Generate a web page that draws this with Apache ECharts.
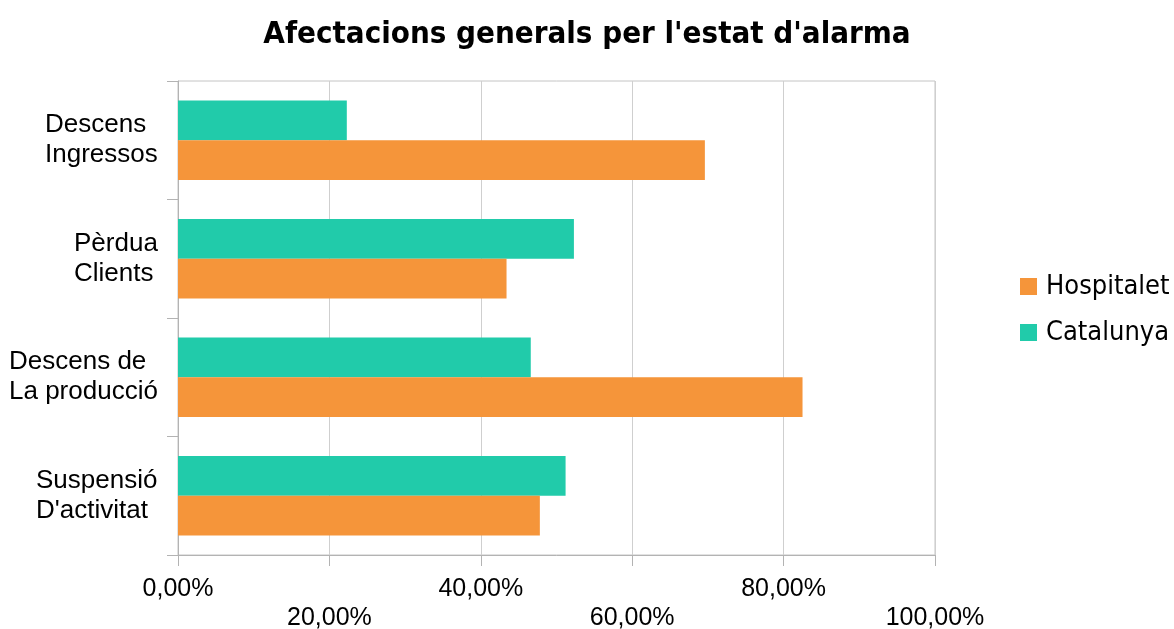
<!DOCTYPE html>
<html>
<head>
<meta charset="utf-8">
<script src="https://cdn.jsdelivr.net/npm/echarts@6/dist/echarts.min.js"></script>
<style>
  html, body { margin: 0; padding: 0; background: #fff; }
  #chart { width: 1174px; height: 629px; }
</style>
</head>
<body>
<div id="chart"></div>
<script>
// categories listed bottom to top
const categories = [
  ['Suspensió', "D'activitat"],
  ['Descens de', 'La producció'],
  ['Pèrdua', 'Clients'],
  ['Descens', 'Ingressos']
]
const hospitaletValues = [47.8, 82.5, 43.4, 69.6]
const catalunyaValues = [51.2, 46.6, 52.3, 22.3]
const xTicks = [0, 20, 40, 60, 80, 100]

const labelFamily = '"Liberation Sans", Arial, sans-serif'
const condensed = '"DejaVu Sans Condensed", "DejaVu Sans", sans-serif'

// measure each two-line label so the lines sit left-aligned inside a right-aligned block
const ctx = document.createElement('canvas').getContext('2d')
ctx.font = '26px ' + labelFamily
const rich = {}
categories.forEach((lines, i) => {
  const w = Math.ceil(Math.max(...lines.map(l => ctx.measureText(l).width))) + 1
  rich['l' + i] = {
    width: w,
    align: 'left',
    fontSize: 26,
    lineHeight: 30,
    fontFamily: labelFamily,
    color: '#000'
  }
})

const fmtPct = v => v.toFixed(2).replace('.', ',') + '%'

const chart = echarts.init(document.getElementById('chart'))
chart.setOption({
  animation: false,
  title: {
    text: "Afectacions generals per l'estat d'alarma",
    left: 'center',
    top: 14,
    textStyle: {
      fontFamily: condensed,
      fontWeight: 'bold',
      fontSize: 31,
      color: '#000'
    }
  },
  legend: {
    data: ['Hospitalet', 'Catalunya'],
    orient: 'vertical',
    left: 1015,
    top: 268,
    itemWidth: 17,
    itemHeight: 17,
    itemGap: 19,
    icon: 'rect',
    textStyle: {
      fontFamily: condensed,
      fontSize: 27,
      color: '#000',
      padding: [0, 0, 0, 4]
    }
  },
  grid: {
    left: 178,
    right: 239,
    top: 81,
    bottom: 74,
    outerBoundsMode: 'none',
    show: true,
    borderColor: '#c4c4c4',
    borderWidth: 1
  },
  xAxis: {
    type: 'value',
    min: 0,
    max: 100,
    interval: 20,
    axisLine: { show: true, lineStyle: { color: '#b3b3b3', width: 1 } },
    axisTick: { show: true, length: 11, lineStyle: { color: '#b3b3b3' } },
    splitLine: { lineStyle: { color: '#cfcfcf', width: 1 } },
    axisLabel: {
      margin: 20,
      fontFamily: labelFamily,
      fontSize: 25,
      lineHeight: 29,
      color: '#000',
      formatter: v => {
        const i = xTicks.indexOf(v)
        return (i % 2 === 1 ? '\n' : '') + fmtPct(v)
      }
    }
  },
  yAxis: {
    type: 'category',
    data: categories.map(c => c.join(' ')),
    axisLine: { show: true, lineStyle: { color: '#b3b3b3', width: 1 } },
    axisTick: { show: true, length: 11, lineStyle: { color: '#b3b3b3' } },
    axisLabel: {
      margin: 19,
      align: 'right',
      formatter: (val, idx) => categories[idx].map(l => '{l' + idx + '|' + l + '}').join('\n'),
      rich: rich
    }
  },
  series: [
    {
      name: 'Catalunya',
      type: 'bar',
      data: catalunyaValues,
      barGap: '0%',
      barCategoryGap: '33%',
      itemStyle: { color: '#21cbaa' }
    },
    {
      name: 'Hospitalet',
      type: 'bar',
      data: hospitaletValues,
      barGap: '0%',
      barCategoryGap: '33%',
      itemStyle: { color: '#f5953a' }
    }
  ]
})
</script>
</body>
</html>
